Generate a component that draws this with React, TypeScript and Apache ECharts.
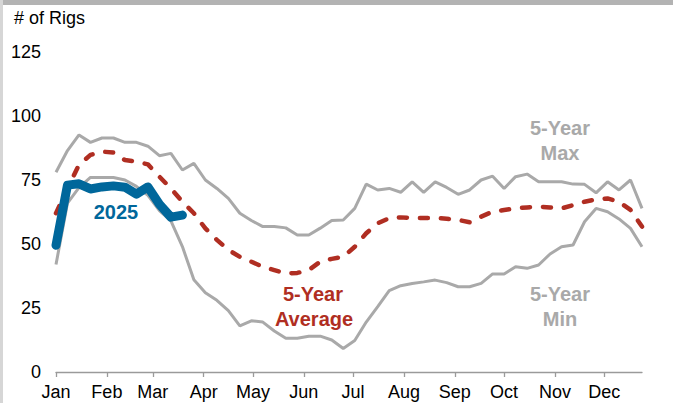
import React, { useEffect, useRef } from "react";
import * as echarts from "echarts";

// Weekly data, week 1..52 (x = week index * 7 days from Jan 1)
const max5Year = [78, 86.5, 92.6, 89.7, 91.4, 91.4, 89.7, 89.7, 88.2, 84.5, 85.4, 78.9, 81.5, 75, 71.7, 67.8, 62, 59.2, 56.8, 56.8, 56.3, 53.5, 53.5, 56.2, 59.2, 59.4, 63.9, 73.4, 71.1, 71.7, 70.2, 74.3, 70.2, 74.3, 72.1, 69.4, 71.1, 75, 76.5, 71.7, 76.3, 77.3, 74.3, 74.3, 74.3, 73.4, 73.3, 70, 74.3, 71.1, 75, 63.9];
const min5Year = [42, 66, 72, 76, 76, 76, 75, 72.5, 69, 63, 59, 49, 36, 31, 28, 24, 18, 20, 19.5, 16, 13.2, 13.2, 14, 14, 12.5, 9.2, 12.3, 19.5, 25.5, 31.8, 33.7, 34.6, 35.2, 35.9, 34.9, 33.3, 33.3, 34.6, 38.3, 38.3, 41.1, 40.5, 41.8, 46.1, 48.9, 49.6, 58.7, 63.9, 62.6, 59.8, 56.1, 48.9];
const avg5Year = [62, 71.7, 80.9, 84.8, 86.1, 85.7, 82.8, 82.2, 81.1, 76.3, 71.7, 66.5, 62, 56.1, 51.6, 47.7, 45, 43.1, 41.1, 39.8, 38.5, 38.7, 39.8, 43.1, 44.2, 45, 48.9, 54.2, 58.1, 60.1, 60.4, 60.2, 60.2, 60.2, 59.9, 59.4, 58.5, 60.7, 62.6, 63.3, 63.9, 64.3, 64.6, 64.3, 63.9, 65.2, 66.5, 67.4, 67.8, 66.5, 63.3, 56.8];
const rigs2025 = [49.5, 73, 73.5, 71.5, 72.3, 72.7, 72.2, 69.5, 72.3, 65.5, 60.5, 61.3];

const monthLabels = ["Jan", "Feb", "Mar", "Apr", "May", "Jun", "Jul", "Aug", "Sep", "Oct", "Nov", "Dec"];
const monthStartDays = [0, 31, 59, 90, 120, 151, 181, 212, 243, 273, 304, 334];
const yTicks = [0, 25, 50, 75, 100, 125];

const FONT = "'Liberation Sans', Arial, sans-serif";
const toPairs = (arr: number[]) => arr.map((v, i) => [i * 7, v]);

export default function App() {
  const ref = useRef<HTMLDivElement>(null);
  useEffect(() => {
    if (!ref.current) return;
    const chart = echarts.init(ref.current, null, { renderer: "svg" });
    const gray = "#a9a9a9";
    const red = "#b02e22";
    const blue = "#00679b";
    chart.setOption({
      animation: false,
      backgroundColor: "#ffffff",
      grid: { left: 56, right: 31, top: 52, bottom: 31 },
      xAxis: {
        type: "value",
        min: 0,
        max: 51 * 7,
        splitLine: { show: false },
        axisLine: { show: true, lineStyle: { color: "#9a9a9a", width: 1.3 } },
        axisTick: { show: true, customValues: monthStartDays, length: 5, lineStyle: { color: "#9a9a9a", width: 1.3 } },
        axisLabel: {
          customValues: monthStartDays,
          formatter: (v: number) => monthLabels[monthStartDays.indexOf(v)] ?? "",
          color: "#000",
          fontSize: 18,
          fontFamily: FONT,
          margin: 11,
        },
      },
      yAxis: {
        type: "value",
        min: yTicks[0],
        max: yTicks[yTicks.length - 1],
        interval: 25,
        splitLine: { show: false },
        axisLine: { show: false },
        axisTick: { show: false },
        axisLabel: { color: "#000", fontSize: 18, fontFamily: FONT, margin: 15 },
      },
      series: [
        { name: "5-Year Max", type: "line", data: toPairs(max5Year), symbol: "none", lineStyle: { color: gray, width: 3 }, z: 2 },
        { name: "5-Year Min", type: "line", data: toPairs(min5Year), symbol: "none", lineStyle: { color: gray, width: 3 }, z: 2 },
        { name: "5-Year Average", type: "line", data: toPairs(avg5Year), symbol: "none", lineStyle: { color: red, width: 4.5, type: [8, 13], cap: "round" }, z: 3 },
        { name: "2025", type: "line", data: toPairs(rigs2025), symbol: "none", lineStyle: { color: blue, width: 9, cap: "round", join: "round" }, z: 4 },
      ],
      graphic: [
        { type: "rect", left: 0, top: 0, shape: { width: 673, height: 5 }, style: { fill: "#b3b3b3" }, z: 10 },
        { type: "rect", left: 0, top: 0, shape: { width: 3, height: 403 }, style: { fill: "#d6d6d6" }, z: 10 },
        { type: "text", x: 14, y: 18, style: { text: "# of Rigs", fill: "#000", font: `18px ${FONT}`, textAlign: "left", textVerticalAlign: "middle" } },
        { type: "text", x: 116, y: 212, style: { text: "2025", fill: blue, font: `bold 20px ${FONT}`, textAlign: "center", textVerticalAlign: "middle" } },
        { type: "text", x: 313, y: 294, style: { text: "5-Year", fill: red, font: `bold 20px ${FONT}`, textAlign: "center", textVerticalAlign: "middle" } },
        { type: "text", x: 314, y: 319, style: { text: "Average", fill: red, font: `bold 20px ${FONT}`, textAlign: "center", textVerticalAlign: "middle" } },
        { type: "text", x: 560, y: 128, style: { text: "5-Year", fill: gray, font: `bold 20px ${FONT}`, textAlign: "center", textVerticalAlign: "middle" } },
        { type: "text", x: 560, y: 153, style: { text: "Max", fill: gray, font: `bold 20px ${FONT}`, textAlign: "center", textVerticalAlign: "middle" } },
        { type: "text", x: 560, y: 294, style: { text: "5-Year", fill: gray, font: `bold 20px ${FONT}`, textAlign: "center", textVerticalAlign: "middle" } },
        { type: "text", x: 560, y: 319, style: { text: "Min", fill: gray, font: `bold 20px ${FONT}`, textAlign: "center", textVerticalAlign: "middle" } },
      ],
    });
    return () => chart.dispose();
  }, []);
  return <div ref={ref} style={{ position: "fixed", left: 0, top: 0, width: 673, height: 403 }} />;
}
